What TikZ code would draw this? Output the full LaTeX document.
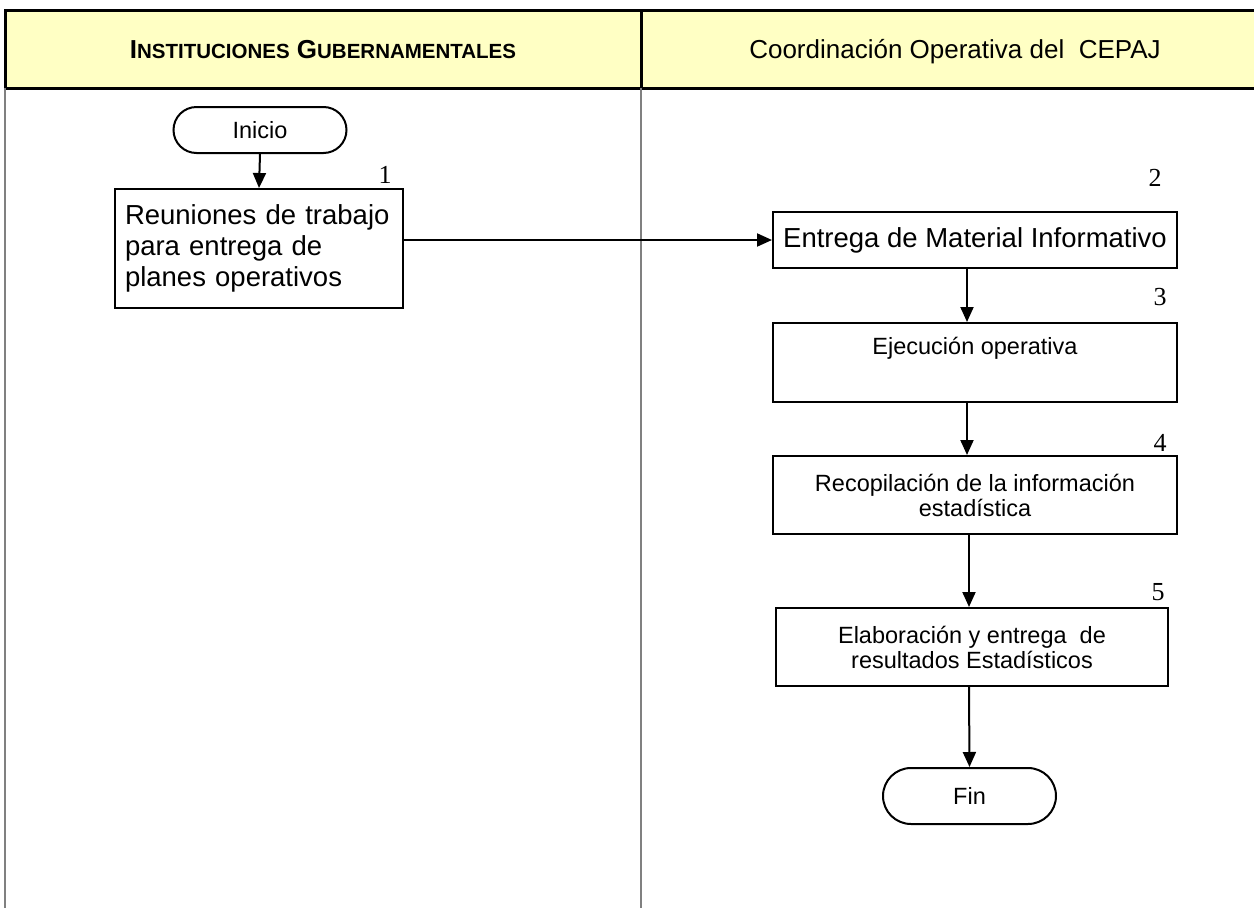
\documentclass[tikz,border=0pt]{standalone}
\usepackage{fontspec}
\setmainfont{Liberation Sans}
\newfontfamily\numfont{Liberation Serif}
\usetikzlibrary{arrows.meta,shapes.misc}
\definecolor{hdr}{RGB}{255,255,196}
\definecolor{lanegray}{RGB}{128,128,128}
\begin{document}
\begin{tikzpicture}[x=1pt,y=-1pt,
  procbox/.style={draw,line width=2pt,rectangle,inner sep=0pt,align=center},
  bigtxt/.style={font=\fontsize{27.5}{31}\selectfont},
  smalltxt/.style={font=\fontsize{23.5}{25}\selectfont},
  term/.style={draw,rounded rectangle,line width=2pt,inner sep=0pt,font=\fontsize{23.5}{25}\selectfont},
  flow/.style={-{Triangle[width=13pt,length=15pt]},line width=2pt},
  num/.style={font=\numfont\fontsize{26}{26}\selectfont,inner sep=0pt},
  hdrtxt/.style={inner sep=0pt,anchor=base}
]
\useasboundingbox (0,0) rectangle (1254,908);
% header band
\fill[hdr] (5,10) rectangle (1254,88);
\draw[line width=3pt] (1254,10) -- (5,10) -- (5,88) -- (1254,88);
\draw[line width=3pt] (641,10) -- (641,88);
% lanes
\draw[lanegray,line width=2pt] (5,88) -- (5,908);
\draw[lanegray,line width=2pt] (641,88) -- (641,908);
% header texts
\node[hdrtxt] (h1) at (323,58) {\bfseries{\fontsize{26}{26}\selectfont I}{\fontsize{20.5}{20.5}\selectfont NSTITUCIONES}{\fontsize{26}{26}\selectfont\ G}{\fontsize{20.5}{20.5}\selectfont UBERNAMENTALES}};
\node[hdrtxt,font=\fontsize{26}{26}\selectfont] (h2) at (955,58) {Coordinación Operativa del\ \ CEPAJ};
% nodes
\node[term,minimum width=173pt,minimum height=46pt] (ini) at (260,130) {Inicio};
\node[procbox,bigtxt,minimum width=288pt,minimum height=119pt,align=left,text width=268pt] (b1) at (259,248.5) {Reuniones de trabajo\\para entrega de\\planes operativos};
\node[procbox,bigtxt,minimum width=404pt,minimum height=56pt] (b2) at (975,240) {Entrega de Material Informativo};
\node[procbox,smalltxt,minimum width=404pt,minimum height=79pt] (b3) at (975,362.5) {Ejecución operativa\\\strut};
\node[procbox,smalltxt,minimum width=404pt,minimum height=78pt] (b4) at (975,495) {Recopilación de la información\\estadística};
\node[procbox,smalltxt,minimum width=392pt,minimum height=78pt] (b5) at (972,647) {Elaboración y entrega\ \ de\\resultados Estadísticos};
\node[term,minimum width=173pt,minimum height=56pt] (fin) at (969.5,796) {Fin};
% numbers
\node[num] (n1) at (385,175) {1};
\node[num] (n2) at (1155,178) {2};
\node[num] (n3) at (1160,297) {3};
\node[num] (n4) at (1160,443) {4};
\node[num] (n5) at (1158,592) {5};
% connectors
\draw[flow] (ini.south) -- (b1.north);
\draw[flow] (b1.east |- b2.west) -- (b2.west);
\draw[flow] ([xshift=-8pt]b2.south) -- ([xshift=-8pt]b3.north);
\draw[flow] ([xshift=-8pt]b3.south) -- ([xshift=-8pt]b4.north);
\draw[flow] ([xshift=-6pt]b4.south) -- ([xshift=-3pt]b5.north);
\draw[flow] ([xshift=-3pt]b5.south) -- (fin.north);
\end{tikzpicture}
\end{document}
